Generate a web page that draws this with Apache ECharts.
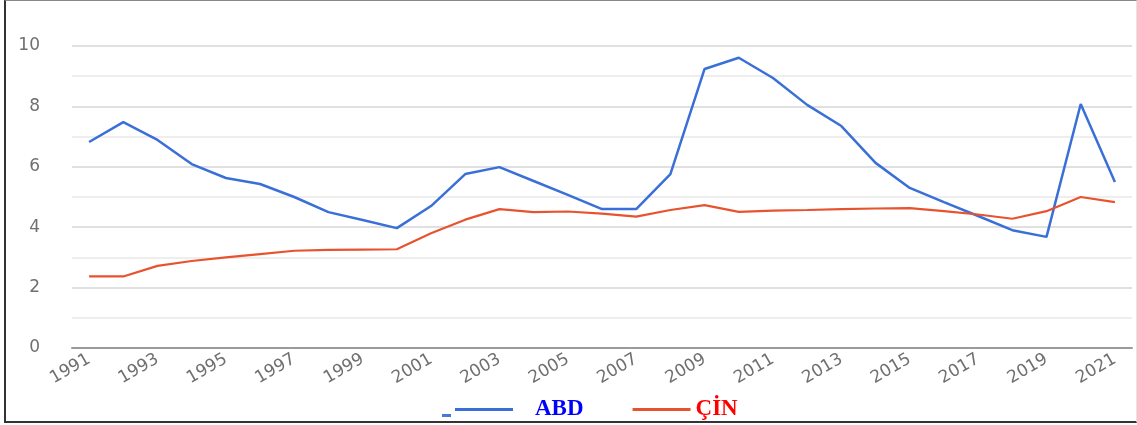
<!DOCTYPE html>
<html>
<head>
<meta charset="utf-8">
<script src="https://cdn.jsdelivr.net/npm/echarts@6/dist/echarts.min.js"></script>
<style>
  html, body { margin: 0; padding: 0; background: #fff; }
  #frame {
    position: absolute; left: 4px; top: 0; width: 1130px; height: 420px;
    border-left: 2px solid #333; border-top: 1px solid #888;
    border-bottom: 2px solid #333; border-right: 1px solid #e4e4e4;
  }
  #chart { position: absolute; left: 0; top: 0; width: 1137px; height: 425px; }
</style>
</head>
<body>
<div id="frame"></div>
<div id="chart"></div>
<script>
// years 1991 - 2021
const years = [];
for (let y = 1991; y <= 2021; y++) years.push(String(y));

const abdValues = [6.82, 7.48, 6.89, 6.09, 5.63, 5.43, 5.0, 4.5, 4.24, 3.97,
  4.7, 5.76, 5.99, 5.53, 5.07, 4.6, 4.6, 5.76, 9.24, 9.61,
  8.94, 8.05, 7.35, 6.13, 5.3, 4.83, 4.37, 3.9, 3.68, 8.08, 5.5];

const cinValues = [2.37, 2.37, 2.72, 2.88, 3.0, 3.11, 3.22, 3.25, 3.26, 3.27,
  3.8, 4.25, 4.6, 4.5, 4.52, 4.45, 4.35, 4.57, 4.73, 4.51,
  4.55, 4.57, 4.6, 4.62, 4.63, 4.53, 4.42, 4.28, 4.53, 5.0, 4.83];

const chart = echarts.init(document.getElementById("chart"));

const option = {
  animation: false,
  grid: {
    left: 72,
    right: 5,
    top: 46,
    bottom: 77
  },
  legend: {
    left: 455,
    top: 398,
    padding: 0,
    icon: "rect",
    itemWidth: 58,
    itemHeight: 3,
    itemGap: 49,
    textStyle: {
      fontFamily: "Liberation Serif",
      fontWeight: "bold",
      fontSize: 23
    },
    data: [
      { name: "ABD", textStyle: { color: "#0000ff", padding: [0, 0, 0, 17] } },
      { name: "ÇİN", textStyle: { color: "#ff0000", padding: [0, 0, 0, 0] } }
    ]
  },
  graphic: [
    {
      type: "rect",
      left: 442,
      top: 414,
      shape: { width: 9, height: 3 },
      style: { fill: "#4a78d8" }
    }
  ],
  xAxis: {
    type: "category",
    data: years,
    axisLine: { lineStyle: { color: "#9a9a9a", width: 2 } },
    axisTick: { show: false },
    axisLabel: {
      interval: 1,
      rotate: 30,
      margin: 10,
      color: "#707070",
      fontSize: 17,
      fontFamily: "DejaVu Sans"
    }
  },
  yAxis: {
    type: "value",
    min: 0,
    max: 10,
    interval: 2,
    axisLine: { show: false },
    axisTick: { show: false },
    axisLabel: {
      margin: 32,
      color: "#707070",
      fontSize: 17,
      fontFamily: "DejaVu Sans"
    },
    splitLine: { lineStyle: { color: "#e0e0e0", width: 2 } },
    minorTick: { show: false, splitNumber: 2 },
    minorSplitLine: { show: true, lineStyle: { color: "#eeeeee", width: 2 } }
  },
  series: [
    {
      name: "ABD",
      type: "line",
      data: abdValues,
      symbol: "none",
      color: "#3a6fd8",
      lineStyle: { width: 2.5 }
    },
    {
      name: "ÇİN",
      type: "line",
      data: cinValues,
      symbol: "none",
      color: "#e8532f",
      lineStyle: { width: 2.2 }
    }
  ]
};

chart.setOption(option);
</script>
</body>
</html>
